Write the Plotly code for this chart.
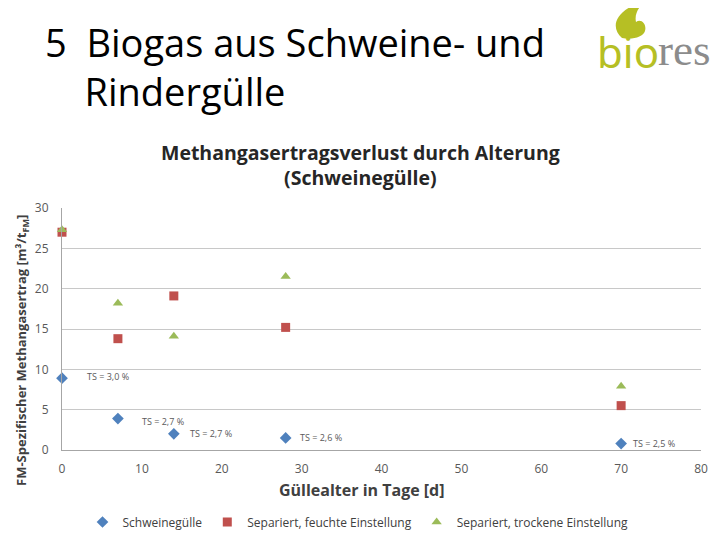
"""Biogas aus Schweine- und Rindergülle - Methangasertragsverlust."""

import plotly.graph_objects as go


# Data
alter_tage = [0, 7, 14, 28, 70]
schweineguelle = [8.9, 3.9, 2.0, 1.5, 0.8]
feucht = [27.0, 13.8, 19.1, 15.2, 5.5]
trocken = [27.3, 18.2, 14.1, 21.5, 7.9]
ts_labels = ["TS = 3,0 %", "TS = 2,7 %", "TS = 2,7 %", "TS = 2,6 %", "TS = 2,5 %"]

x_ticks = [0, 10, 20, 30, 40, 50, 60, 70, 80]
y_ticks = [0, 5, 10, 15, 20, 25, 30]

BLUE = "#4f81bd"
RED = "#c0504d"
GREEN = "#9bbb59"
LOGO_GREEN = "#b6bf24"
FONT = "Open Sans"

# Layout geometry (figure pixels)
W, H = 720, 540
M_L, M_R, M_T, M_B = 54, 27, 200, 98
PLOT_W = W - M_L - M_R
PLOT_H = H - M_T - M_B
PAGE_OFF = 8  # browser body margin


def px(x):
    """Page pixel x -> paper x."""
    return (x - PAGE_OFF - M_L) / PLOT_W


def py(y):
    """Page pixel y -> paper y."""
    return (H - M_B - (y - PAGE_OFF)) / PLOT_H


fig = go.Figure()

fig.add_trace(go.Scatter(
    x=alter_tage,
    y=schweineguelle,
    mode="markers",
    marker={"symbol": "diamond", "size": 9, "color": BLUE},
    name="Schweinegülle",
    cliponaxis=False
))

fig.add_trace(go.Scatter(
    x=alter_tage,
    y=feucht,
    mode="markers",
    marker={"symbol": "square", "size": 9, "color": RED},
    name="Separiert, feuchte Einstellung",
    cliponaxis=False
))

fig.add_trace(go.Scatter(
    x=alter_tage,
    y=trocken,
    mode="markers",
    marker={"symbol": "triangle-up", "size": 9, "color": GREEN},
    name="Separiert, trockene Einstellung",
    cliponaxis=False
))

axis_font = {"size": 12, "color": "#595959", "family": FONT}

annotations = [
    {
        "text": "5  Biogas aus Schweine- und<br>    Rindergülle",
        "xref": "paper", "yref": "paper",
        "x": px(43), "y": py(14),
        "xanchor": "left", "yanchor": "top",
        "align": "left",
        "showarrow": False,
        "font": {"size": 38, "color": "black", "family": FONT}
    },
    {
        "text": "<b>Methangasertragsverlust durch Alterung<br>(Schweinegülle)</b>",
        "xref": "paper", "yref": "paper",
        "x": px(360), "y": py(165),
        "xanchor": "center", "yanchor": "middle",
        "showarrow": False,
        "font": {"size": 19.5, "color": "#262626", "family": FONT}
    },
    {
        "text": "<b>Güllealter in Tage [d]</b>",
        "xref": "paper", "yref": "paper",
        "x": px(362), "y": py(490),
        "xanchor": "center", "yanchor": "middle",
        "showarrow": False,
        "font": {"size": 16, "color": "#404040", "family": FONT}
    },
    {
        "text": "<b>FM-Spezifischer Methangasertrag [m³/t<sub>FM</sub>]</b>",
        "xref": "paper", "yref": "paper",
        "x": px(22), "y": py(351),
        "xanchor": "center", "yanchor": "middle",
        "textangle": -90,
        "showarrow": False,
        "font": {"size": 13, "color": "#404040", "family": FONT}
    },
    {
        "text": "bio",
        "xref": "paper", "yref": "paper",
        "x": px(661), "y": py(52),
        "xanchor": "right", "yanchor": "middle",
        "showarrow": False,
        "font": {"size": 42, "color": LOGO_GREEN, "family": "Noto Sans"}
    },
    {
        "text": "res",
        "xref": "paper", "yref": "paper",
        "x": px(656), "y": py(50),
        "xanchor": "left", "yanchor": "middle",
        "showarrow": False,
        "font": {"size": 45, "color": "#8c8c8c", "family": "Liberation Serif"}
    }
]

# TS labels next to the Schweinegülle points
label_shift = [(23, 2), (22, -3), (14, 0), (12, 0), (10, 0)]
for xv, yv, lab, (dx, dy) in zip(alter_tage, schweineguelle, ts_labels,
                                 label_shift):
    annotations.append({
        "text": lab,
        "x": xv, "y": yv,
        "xanchor": "left", "yanchor": "middle",
        "xshift": dx, "yshift": dy,
        "showarrow": False,
        "font": {"size": 9, "color": "#595959", "family": FONT}
    })

# Logo flame (page pixels)
flame_pts = [
    (622, 38),
    (610, 28), (614, 10), (645, 1),
    (640, 6), (634, 13), (636, 22),
    (641, 18), (647, 24), (645, 31),
    (643, 37), (633, 40), (622, 38)
]
p = flame_pts
flame_path = (
    f"M {px(p[0][0])},{py(p[0][1])} "
    + " ".join(
        "C " + " ".join(f"{px(a)},{py(b)}" for a, b in p[i:i + 3])
        for i in range(1, len(p), 3)
    )
    + " Z"
)

fig.update_layout(
    width=W,
    height=H,
    plot_bgcolor="white",
    paper_bgcolor="white",
    showlegend=True,
    margin={"l": M_L, "r": M_R, "t": M_T, "b": M_B, "autoexpand": False},
    xaxis={
        "range": [0, 80],
        "tickvals": x_ticks,
        "showgrid": False,
        "zeroline": False,
        "showline": True,
        "linecolor": "#a6a6a6",
        "tickfont": axis_font,
        "ticks": "outside",
        "ticklen": 8,
        "tickcolor": "rgba(0,0,0,0)",
        "fixedrange": True
    },
    yaxis={
        "range": [0, 30],
        "tickvals": y_ticks,
        "showgrid": True,
        "gridcolor": "#c8c8c8",
        "zeroline": False,
        "showline": True,
        "linecolor": "#a6a6a6",
        "tickfont": axis_font,
        "ticks": "outside",
        "ticklen": 10,
        "tickcolor": "rgba(0,0,0,0)",
        "fixedrange": True
    },
    legend={
        "orientation": "h",
        "x": px(358),
        "xanchor": "center",
        "y": py(522),
        "yanchor": "middle",
        "font": {"size": 12, "color": "#404040", "family": FONT},
        "itemwidth": 30
    },
    annotations=annotations,
    shapes=[
        {
            "type": "path",
            "xref": "paper", "yref": "paper",
            "path": flame_path,
            "fillcolor": LOGO_GREEN,
            "line": {"width": 0}
        }
    ]
)

fig.write_html("out.html", config={"displayModeBar": False})
